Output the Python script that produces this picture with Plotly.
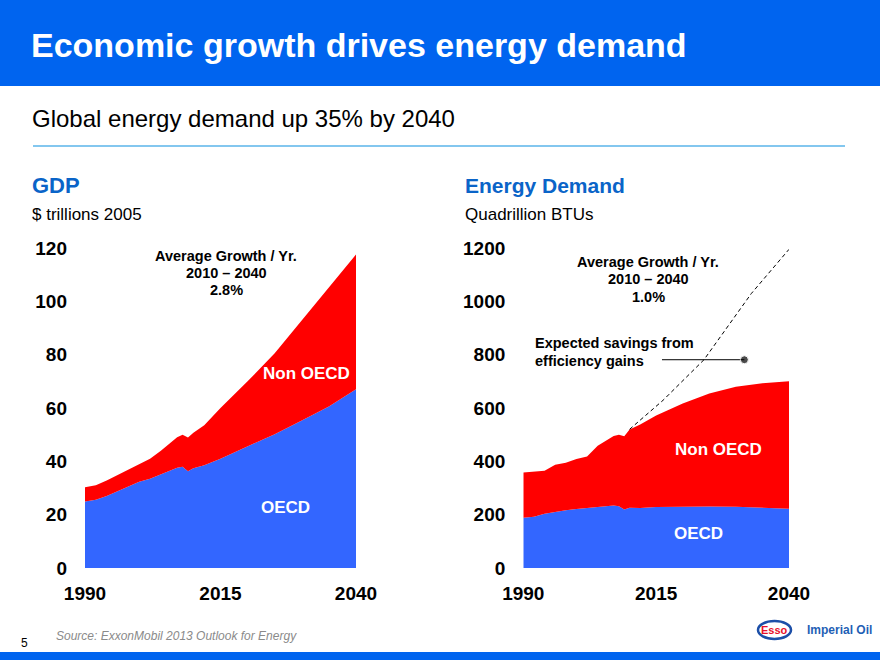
import plotly.graph_objects as go

# ---------------- data ----------------
gdp_years = [1990, 1992, 1994, 1996, 1998, 2000, 2002, 2004, 2006, 2007, 2008, 2009, 2010,
             2012, 2015, 2020, 2025, 2030, 2035, 2040]
gdp_oecd = [24.9, 25.6, 27.0, 28.8, 30.6, 32.3, 33.5, 35.2, 36.9, 37.6, 38.0, 36.3, 37.4,
            38.5, 41.0, 45.5, 50.2, 55.3, 60.6, 67.0]
gdp_non_oecd = [5.4, 5.4, 5.8, 6.0, 6.2, 6.7, 7.5, 8.8, 10.6, 11.4, 12.0, 12.6, 13.3,
                15.0, 19.0, 24.5, 30.3, 37.7, 44.9, 50.6]

en_years = [1990, 1992, 1994, 1996, 1998, 2000, 2002, 2004, 2006, 2007, 2008, 2009, 2010,
            2012, 2015, 2020, 2025, 2030, 2035, 2040]
en_oecd = [188, 192, 203, 210, 217, 221, 224, 229, 232, 234, 232, 219, 226,
           225, 229, 231, 231, 230, 227, 222]
en_total = [358, 361, 365, 387, 395, 409, 418, 458, 484, 495, 500, 494, 519,
            538, 572, 617, 654, 680, 693, 700]
en_non_oecd = [t - o for t, o in zip(en_total, en_oecd)]

trend_years = [2010, 2016.3, 2024, 2032.9, 2040]
trend_values = [520, 629, 781, 1029, 1195]

savings_years = [2016.1, 2031.6]
savings_values = [781, 781]

gdp_ticks = [0, 20, 40, 60, 80, 100, 120]
en_ticks = [0, 200, 400, 600, 800, 1000, 1200]
x_ticks = [1990, 2015, 2040]

# ---------------- style ----------------
W, H = 880, 660
BLUE_BAR = "#0064ef"
RED = "#ff0000"
OECD_BLUE = "#3366ff"
FONT = "Liberation Sans, Arial, sans-serif"


def px(x):
    return x / W


def py(y):
    return 1 - y / H


fig = go.Figure()

# GDP stacked areas
fig.add_trace(go.Scatter(x=gdp_years, y=gdp_oecd, stackgroup="gdp", mode="lines",
                         line=dict(width=0), fillcolor=OECD_BLUE, name="OECD",
                         xaxis="x", yaxis="y", hoverinfo="skip"))
fig.add_trace(go.Scatter(x=gdp_years, y=gdp_non_oecd, stackgroup="gdp", mode="lines",
                         line=dict(width=0), fillcolor=RED, name="Non OECD",
                         xaxis="x", yaxis="y", hoverinfo="skip"))

# Energy stacked areas
fig.add_trace(go.Scatter(x=en_years, y=en_oecd, stackgroup="en", mode="lines",
                         line=dict(width=0), fillcolor=OECD_BLUE, name="OECD",
                         xaxis="x2", yaxis="y2", hoverinfo="skip"))
fig.add_trace(go.Scatter(x=en_years, y=en_non_oecd, stackgroup="en", mode="lines",
                         line=dict(width=0), fillcolor=RED, name="Non OECD",
                         xaxis="x2", yaxis="y2", hoverinfo="skip"))

# dashed trend line
fig.add_trace(go.Scatter(x=trend_years, y=trend_values, mode="lines",
                         line=dict(color="black", width=1, dash="4px,3px"),
                         xaxis="x2", yaxis="y2", hoverinfo="skip"))
# savings pointer
fig.add_trace(go.Scatter(x=savings_years, y=savings_values, mode="lines+markers",
                         line=dict(color="black", width=1),
                         marker=dict(size=[0, 8], color="black"),
                         xaxis="x2", yaxis="y2", hoverinfo="skip"))

axis_font = dict(family=FONT, size=19, color="black", weight="bold")

common_x = dict(range=[1990, 2040], tickvals=x_ticks, ticktext=[str(v) for v in x_ticks],
                showgrid=False, zeroline=False, showline=False, ticks="",
                tickfont=axis_font, ticklabelstandoff=12, fixedrange=True, automargin=False)
common_y = dict(showgrid=False, zeroline=False, showline=False, ticks="",
                tickfont=axis_font, ticklabelstandoff=17, fixedrange=True, automargin=False)

y_dom = [py(568), py(248)]

fig.update_layout(
    width=W, height=H, autosize=False,
    margin=dict(l=0, r=0, t=0, b=0, pad=0),
    paper_bgcolor="white", plot_bgcolor="rgba(0,0,0,0)",
    showlegend=False,
    font=dict(family=FONT),
    xaxis=dict(domain=[px(85), px(356)], anchor="y", **common_x),
    yaxis=dict(domain=y_dom, anchor="x", range=[0, 120], tickvals=gdp_ticks, **common_y),
    xaxis2=dict(domain=[px(523.3), px(789)], anchor="y2", **common_x),
    yaxis2=dict(domain=y_dom, anchor="x2", range=[0, 1200], tickvals=en_ticks, **common_y),
)

shapes = [
    dict(type="rect", xref="paper", yref="paper", x0=0, x1=1, y0=py(86), y1=1,
         fillcolor=BLUE_BAR, line=dict(width=0), layer="below"),
    dict(type="rect", xref="paper", yref="paper", x0=0, x1=1, y0=0, y1=py(652),
         fillcolor=BLUE_BAR, line=dict(width=0), layer="below"),
    dict(type="line", xref="paper", yref="paper", x0=px(33), x1=px(845), y0=py(146), y1=py(146),
         line=dict(color="#5ab4ea", width=1.5)),
    dict(type="circle", xref="paper", yref="paper", x0=px(758), x1=px(791), y0=py(639), y1=py(621),
         fillcolor="white", line=dict(color="#1c4fa8", width=2.5)),
]
fig.update_layout(shapes=shapes)


def ann(x, y, text, size, color="black", bold=False, italic=False, xanchor="left",
        family=FONT):
    f = dict(family=family, size=size, color=color)
    if bold:
        f["weight"] = "bold"
    if italic:
        f["style"] = "italic"
    return dict(xref="paper", yref="paper", x=px(x), y=py(y), text=text, showarrow=False,
                xanchor=xanchor, yanchor="middle", font=f, borderpad=0)


annotations = [
    ann(30, 45, "Economic growth drives energy demand", 34, "white", bold=True),
    ann(31, 118, "Global energy demand up 35% by 2040", 24),
    ann(31, 186, "GDP", 22, "#0a64c8", bold=True),
    ann(464, 186, "Energy Demand", 21, "#0a64c8", bold=True),
    ann(31, 214, "$ trillions 2005", 17),
    ann(464, 214, "Quadrillion BTUs", 17),
    # left notes
    ann(226, 256, "Average Growth / Yr.", 14.5, bold=True, xanchor="center"),
    ann(226, 273, "2010 – 2040", 14.5, bold=True, xanchor="center"),
    ann(226, 290, "2.8%", 14.5, bold=True, xanchor="center"),
    ann(306, 373, "Non OECD", 17, "white", bold=True, xanchor="center"),
    ann(285, 507, "OECD", 17, "white", bold=True, xanchor="center"),
    # right notes
    ann(648, 262, "Average Growth / Yr.", 14.5, bold=True, xanchor="center"),
    ann(648, 279, "2010 – 2040", 14.5, bold=True, xanchor="center"),
    ann(648, 297, "1.0%", 14.5, bold=True, xanchor="center"),
    ann(534, 343, "Expected savings from", 14.5, bold=True),
    ann(534, 361, "efficiency gains", 14.5, bold=True),
    ann(718, 450, "Non OECD", 17, "white", bold=True, xanchor="center"),
    ann(698, 533, "OECD", 17, "white", bold=True, xanchor="center"),
    # footer
    ann(55, 636, "Source: ExxonMobil 2013 Outlook for Energy", 12, "#8a8a8a", italic=True),
    ann(20, 643, "5", 12),
    ann(774.5, 630, "Esso", 11, "#e8102a", bold=True, xanchor="center"),
    ann(806, 630, "Imperial Oil", 12, "#1f5fb5", bold=True),
]
fig.update_layout(annotations=annotations)

fig.write_html("out.html",
               config={"displayModeBar": False, "staticPlot": True},
               post_script="document.body.style.margin='0';document.body.style.overflow='hidden';")
